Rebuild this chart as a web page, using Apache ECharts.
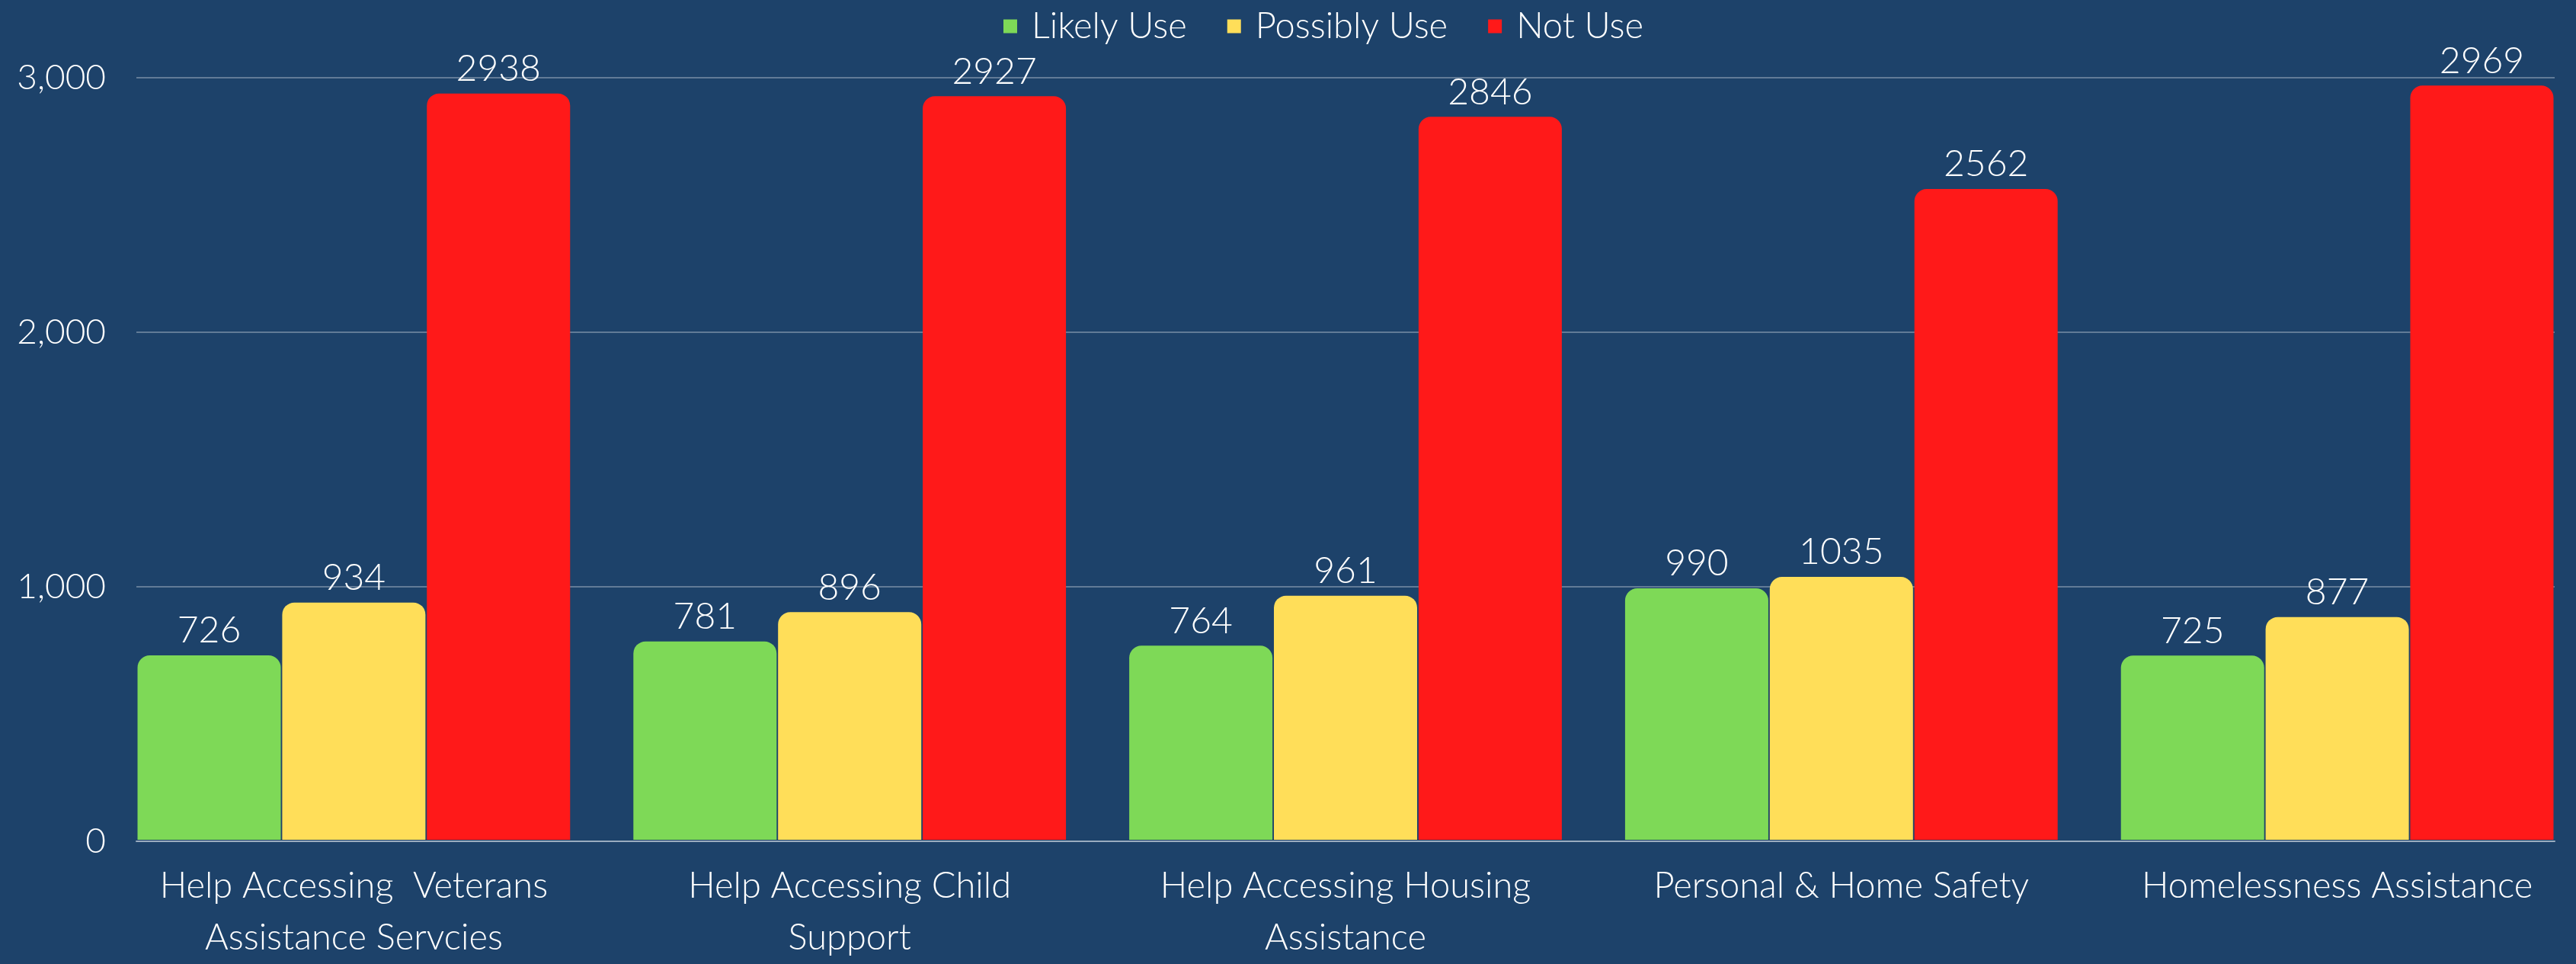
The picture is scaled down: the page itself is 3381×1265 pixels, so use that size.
<!DOCTYPE html>
<html>
<head>
<meta charset="utf-8">
<title>Service usage</title>
<script src="https://cdn.jsdelivr.net/npm/echarts@6/dist/echarts.min.js"></script>
<style>
    html, body { margin: 0; padding: 0; background: #1D426A; overflow: hidden; }
    /* a bit wider than the window: the last category band runs past the right edge */
    #main { width: 3393px; height: 1265px; }
</style>
</head>
<body>
<div id="main"></div>
<script>
// categories (label text kept as in the original, line breaks included)
const categories = [
    'Help Accessing  Veterans\nAssistance Servcies',
    'Help Accessing Child\nSupport',
    'Help Accessing Housing\nAssistance',
    'Personal & Home Safety',
    'Homelessness Assistance'
]
const seriesNames = ['Likely Use', 'Possibly Use', 'Not Use']
const likelyUse = [726, 781, 764, 990, 725]
const possiblyUse = [934, 896, 961, 1035, 877]
const notUse = [2938, 2927, 2846, 2562, 2969]
// y axis ticks: 0, 1,000, 2,000, 3,000
const yMin = 0
const yMax = 3000
const yStep = 1000

const colors = ['#7ED957', '#FFDE59', '#FF1919']
const font = 'Lato, "Open Sans", sans-serif'

const mChart = echarts.init(document.getElementById('main'))

const makeBar = (name, data, color) => ({
    name: name,
    type: 'bar',
    xAxisIndex: 0,
    yAxisIndex: 0,
    data: data,
    barWidth: 188,
    barGap: '1%',
    itemStyle: {
        color: color,
        borderRadius: [16, 16, 0, 0]
    },
    label: {
        show: true,
        position: 'top',
        distance: 8,
        color: '#FFFFFF',
        fontFamily: font,
        fontWeight: 300,
        fontSize: 48
    },
    z: 3
})

const option = {
    backgroundColor: '#1D426A',
    animation: false,
    legend: {
        top: 6,
        left: 1312,
        itemWidth: 18,
        itemHeight: 18,
        itemGap: 53,
        icon: 'rect',
        data: seriesNames,
        textStyle: {
            color: '#FFFFFF',
            fontFamily: font,
            fontWeight: 300,
            fontSize: 47,
            padding: [0, 0, 0, 14]
        }
    },
    grid: [
        // grid for bars: category bands reach a half gap past the gridlines
        { left: 139, top: 102, right: 0, bottom: 161 },
        // grid for gridlines, axis line and y labels
        { left: 179, top: 102, right: 40, bottom: 161 }
    ],
    xAxis: [
        {
            type: 'category',
            gridIndex: 0,
            data: categories,
            axisLine: { show: false },
            axisTick: { show: false },
            axisLabel: {
                interval: 0,
                margin: 27,
                color: '#FFFFFF',
                fontFamily: font,
                fontWeight: 300,
                fontSize: 47,
                lineHeight: 68
            }
        },
        {
            type: 'value',
            gridIndex: 1,
            min: 0,
            max: 1,
            axisLine: { show: true, lineStyle: { color: '#9AACBF', width: 2 } },
            axisTick: { show: false },
            axisLabel: { show: false },
            splitLine: { show: false }
        }
    ],
    yAxis: [
        {
            type: 'value',
            gridIndex: 0,
            min: yMin,
            max: yMax,
            interval: yStep,
            show: false
        },
        {
            type: 'value',
            gridIndex: 1,
            min: yMin,
            max: yMax,
            interval: yStep,
            axisLine: { show: false },
            axisTick: { show: false },
            axisLabel: {
                margin: 40,
                color: '#FFFFFF',
                fontFamily: font,
                fontWeight: 300,
                fontSize: 46,
                formatter: v => v.toLocaleString('en-US')
            },
            splitLine: {
                show: true,
                lineStyle: { color: 'rgba(255,255,255,0.3)', width: 2 }
            }
        }
    ],
    series: [
        makeBar(seriesNames[0], likelyUse, colors[0]),
        makeBar(seriesNames[1], possiblyUse, colors[1]),
        makeBar(seriesNames[2], notUse, colors[2])
    ]
}

mChart.setOption(option)
</script>
</body>
</html>
